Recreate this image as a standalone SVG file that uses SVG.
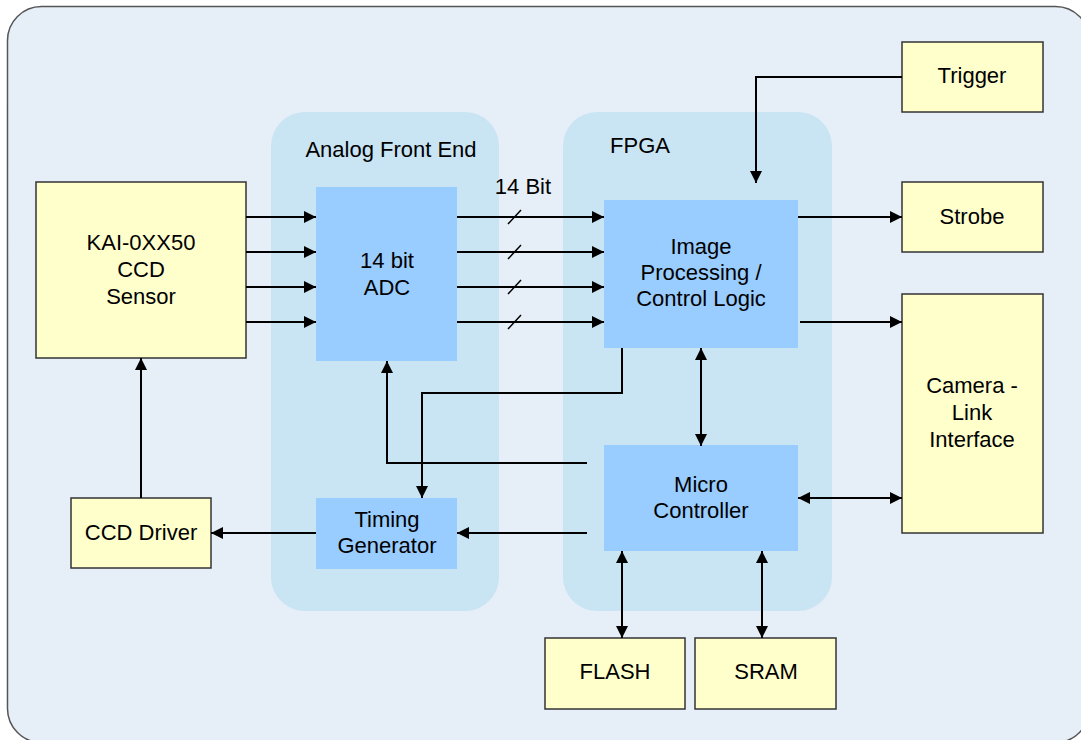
<svg xmlns="http://www.w3.org/2000/svg" width="1081" height="740" viewBox="0 0 1081 740">
<defs>
<marker id="ah" markerWidth="12" markerHeight="12" viewBox="0 0 12 12" refX="12" refY="6" orient="auto-start-reverse" markerUnits="userSpaceOnUse">
<path d="M0,0 L12,6 L0,12 Z" fill="#000"/>
</marker>
</defs>
<style>
text{font-family:"Liberation Sans",Arial,sans-serif;font-size:22px;fill:#000;text-anchor:middle}
.y{fill:#FFFFCC;stroke:#333;stroke-width:1.5}
.b{fill:#99CCFF}
.g{fill:#C9E4F3}
.c{fill:none;stroke:#000;stroke-width:2}
.a{marker-end:url(#ah)}
.d{marker-start:url(#ah);marker-end:url(#ah)}
.s{stroke:#000;stroke-width:1.5}
</style>
<rect x="7.5" y="6.5" width="1082" height="736" rx="34" fill="#E6EEF8" stroke="#555" stroke-width="1.5"/>
<g id="afe"><rect class="g" x="271" y="112" width="228" height="499" rx="34"/><text x="391" y="157">Analog Front End</text></g>
<g id="fpga"><rect class="g" x="563" y="112" width="269" height="499" rx="34"/><text x="640" y="153">FPGA</text></g>
<g id="kai"><rect class="y" x="36" y="182" width="210" height="176"/><text x="141" y="250">KAI-0XX50</text><text x="141" y="277">CCD</text><text x="141" y="304">Sensor</text></g>
<g id="adc"><rect class="b" x="316" y="187" width="141" height="174"/><text x="387" y="268">14 bit</text><text x="387" y="295">ADC</text></g>
<g id="ip"><rect class="b" x="604" y="200" width="194" height="148"/><text x="701" y="254">Image</text><text x="701" y="280">Processing /</text><text x="701" y="306">Control Logic</text></g>
<g id="micro"><rect class="b" x="604" y="445" width="194" height="106"/><text x="701" y="492">Micro</text><text x="701" y="518">Controller</text></g>
<g id="timing"><rect class="b" x="316" y="498" width="141" height="71"/><text x="387" y="527">Timing</text><text x="387" y="553">Generator</text></g>
<g id="ccddrv"><rect class="y" x="71" y="498" width="140" height="70"/><text x="141" y="540">CCD Driver</text></g>
<g id="trigger"><rect class="y" x="902" y="42" width="141" height="70"/><text x="972" y="83">Trigger</text></g>
<g id="strobe"><rect class="y" x="902" y="182" width="141" height="70"/><text x="972" y="224">Strobe</text></g>
<g id="camlink"><rect class="y" x="902" y="294" width="141" height="239"/><text x="972" y="393">Camera -</text><text x="972" y="420">Link</text><text x="972" y="447">Interface</text></g>
<g id="flash"><rect class="y" x="545" y="638" width="140" height="71"/><text x="615" y="679">FLASH</text></g>
<g id="sram"><rect class="y" x="695" y="638" width="141" height="71"/><text x="766" y="679">SRAM</text></g>
<g id="connectors">
<path class="c a" d="M246,217 H316"/>
<path class="c a" d="M246,252 H316"/>
<path class="c a" d="M246,287 H316"/>
<path class="c a" d="M246,322 H316"/>
<path class="c a" d="M457,217 H604"/>
<path class="c a" d="M457,252 H604"/>
<path class="c a" d="M457,287 H604"/>
<path class="c a" d="M457,322 H604"/>
<path class="s" d="M508,224 L521,210 M508,259 L521,245 M508,294 L521,280 M508,329 L521,315"/>
<text x="523" y="194">14 Bit</text>
<path class="c a" d="M902,77 H756 V183"/>
<path class="c a" d="M798,217 H902"/>
<path class="c a" d="M800,322 H902"/>
<path class="c a" d="M622,348 V393 H422 V498"/>
<path class="c d" d="M701,348 V446"/>
<path class="c a" d="M587,463 H387 V361"/>
<path class="c a" d="M587,533 H457"/>
<path class="c a" d="M316,533 H211"/>
<path class="c a" d="M141,498 V358"/>
<path class="c d" d="M798,498 H902"/>
<path class="c d" d="M622,551 V638"/>
<path class="c d" d="M762,551 V638"/>
</g>
</svg>
